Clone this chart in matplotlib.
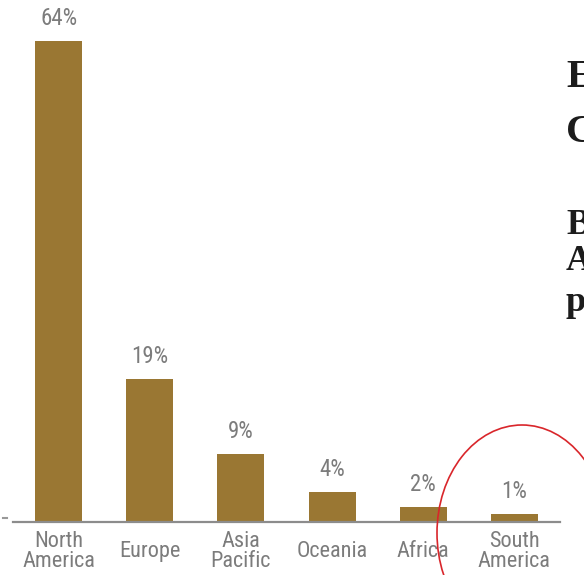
import matplotlib
matplotlib.use("Agg")
import matplotlib.pyplot as plt
from matplotlib.patches import Ellipse

# data
regions = ["North\nAmerica", "Europe", "Asia\nPacific", "Oceania", "Africa", "South\nAmerica"]
shares = [64, 19, 9, 4, 2, 1]
side_letters = ["E", "C", "B", "A", "p"]

bar_color = "#9a7733"
text_gray = "#7c7c7c"
label_font = ["Roboto Condensed", "Liberation Sans Narrow", "Noto Sans", "DejaVu Sans"]

W, H = 584, 575
fig = plt.figure(figsize=(W / 100, H / 100), dpi=100)

# main chart area, placed in pixels
base_y = 522
ax = fig.add_axes([13 / W, (H - base_y) / H, (560 - 13) / W, base_y / H])
x = list(range(len(shares)))
ax.bar(x, shares, width=0.515, color=bar_color)
ax.set_xlim(-0.5, 5.5)
ax.set_ylim(0, base_y / 7.52)

for side in ["top", "right", "left"]:
    ax.spines[side].set_visible(False)
ax.spines["bottom"].set_color("#8c8c8c")
ax.spines["bottom"].set_linewidth(1.6)
ax.set_xticks([])
ax.set_yticks([])

for xi, v, name in zip(x, shares, regions):
    ax.annotate(f"{v}%", (xi, v), xytext=(0, 8), textcoords="offset points",
                ha="center", va="bottom", fontsize=16.5, color=text_gray,
                family=label_font, fontstretch="condensed")
    ax.text(xi, -3.9, name, ha="center", va="center", fontsize=16,
            color=text_gray, family=label_font, fontstretch="condensed",
            linespacing=0.92, clip_on=False)

# overlay in pixel coordinates for the slide bits
over = fig.add_axes([0, 0, 1, 1], facecolor="none")
over.set_xlim(0, W)
over.set_ylim(H, 0)
over.axis("off")

over.add_patch(Ellipse((522, 533), 170, 216, fill=False, edgecolor="#d9262b", linewidth=1.2))

# slide text on the right, cut by the edge of the screenshot
baselines = [87, 142, 234, 270, 311]
sizes = [29, 29, 26, 26, 26]
for letter, y, s in zip(side_letters, baselines, sizes):
    over.text(566, y, letter, ha="left", va="baseline", fontsize=s, fontweight="bold",
              family="Liberation Serif", color="#1c1c1c", clip_on=True)

over.plot([3, 7], [518, 518], color="#999999", linewidth=1.5)

fig.savefig("out.png", dpi=100)
